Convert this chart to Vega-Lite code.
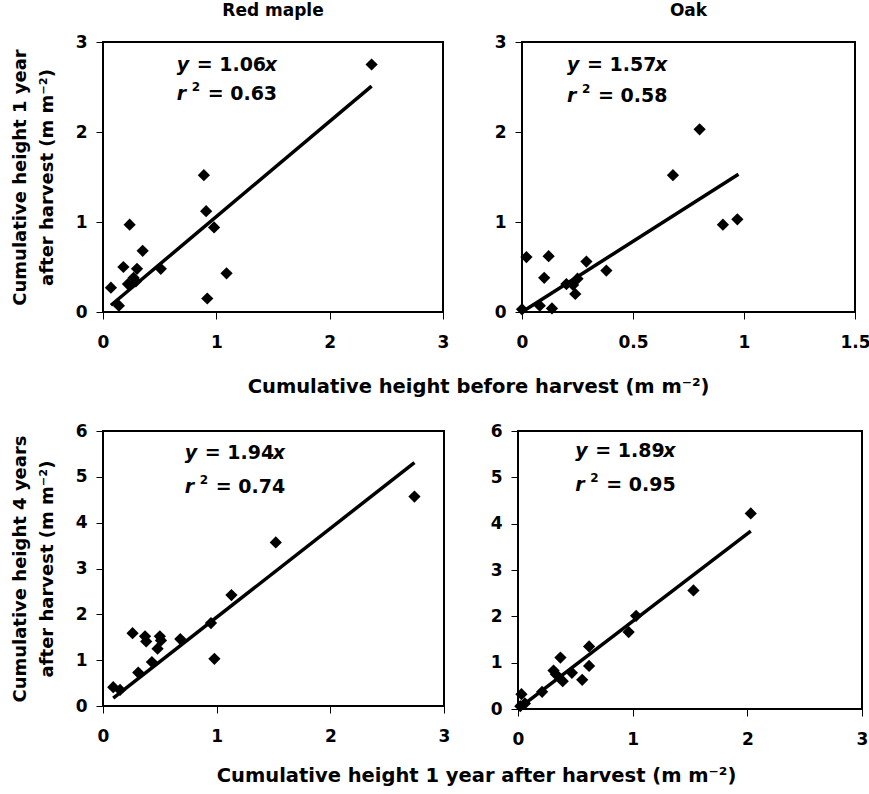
{
  "$schema": "https://vega.github.io/schema/vega-lite/v6.json",
  "background": "white",
  "padding": {"left": 10, "top": 1, "right": 0, "bottom": 3},
  "datasets": {
    "rm_top": [
      {"before": 2.37, "after1": 2.75}, {"before": 0.89, "after1": 1.52}, {"before": 0.91, "after1": 1.12},
      {"before": 0.98, "after1": 0.94}, {"before": 0.235, "after1": 0.97}, {"before": 0.35, "after1": 0.68},
      {"before": 0.18, "after1": 0.5}, {"before": 0.3, "after1": 0.48}, {"before": 0.51, "after1": 0.48},
      {"before": 1.09, "after1": 0.43}, {"before": 0.27, "after1": 0.38}, {"before": 0.22, "after1": 0.31},
      {"before": 0.29, "after1": 0.34}, {"before": 0.07, "after1": 0.27}, {"before": 0.14, "after1": 0.07},
      {"before": 0.92, "after1": 0.15}
    ],
    "oak_top": [
      {"before": 0.8, "after1": 2.03}, {"before": 0.68, "after1": 1.52}, {"before": 0.97, "after1": 1.03},
      {"before": 0.905, "after1": 0.97}, {"before": 0.02, "after1": 0.61}, {"before": 0.12, "after1": 0.62},
      {"before": 0.29, "after1": 0.56}, {"before": 0.38, "after1": 0.46}, {"before": 0.1, "after1": 0.38},
      {"before": 0.25, "after1": 0.37}, {"before": 0.2, "after1": 0.31}, {"before": 0.23, "after1": 0.3},
      {"before": 0.24, "after1": 0.2}, {"before": 0.0, "after1": 0.03}, {"before": 0.08, "after1": 0.07},
      {"before": 0.135, "after1": 0.04}
    ],
    "rm_bot": [
      {"after1": 2.74, "after4": 4.57}, {"after1": 1.52, "after4": 3.57}, {"after1": 1.13, "after4": 2.42},
      {"after1": 0.95, "after4": 1.81}, {"after1": 0.98, "after4": 1.03}, {"after1": 0.68, "after4": 1.46},
      {"after1": 0.26, "after4": 1.59}, {"after1": 0.37, "after4": 1.52}, {"after1": 0.38, "after4": 1.41},
      {"after1": 0.5, "after4": 1.52}, {"after1": 0.51, "after4": 1.43}, {"after1": 0.48, "after4": 1.25},
      {"after1": 0.43, "after4": 0.96}, {"after1": 0.31, "after4": 0.73}, {"after1": 0.09, "after4": 0.41},
      {"after1": 0.15, "after4": 0.35}
    ],
    "oak_bot": [
      {"after1": 2.03, "after4": 4.22}, {"after1": 1.53, "after4": 2.56}, {"after1": 1.03, "after4": 2.01},
      {"after1": 0.965, "after4": 1.66}, {"after1": 0.62, "after4": 1.35}, {"after1": 0.62, "after4": 0.93},
      {"after1": 0.37, "after4": 1.11}, {"after1": 0.31, "after4": 0.83}, {"after1": 0.33, "after4": 0.75},
      {"after1": 0.47, "after4": 0.78}, {"after1": 0.39, "after4": 0.6}, {"after1": 0.56, "after4": 0.63},
      {"after1": 0.21, "after4": 0.37}, {"after1": 0.03, "after4": 0.32}, {"after1": 0.06, "after4": 0.12},
      {"after1": 0.02, "after4": 0.06}
    ],
    "fit_rm_top": [{"before": 0.07, "after1": 0.075}, {"before": 2.37, "after1": 2.51}],
    "fit_oak_top": [{"before": 0.0, "after1": 0.0}, {"before": 0.975, "after1": 1.53}],
    "fit_rm_bot": [{"after1": 0.09, "after4": 0.17}, {"after1": 2.74, "after4": 5.31}],
    "fit_oak_bot": [{"after1": 0.02, "after4": 0.04}, {"after1": 2.03, "after4": 3.84}],
    "one": [{}]
  },
  "vconcat": [
    {
      "title": {"text": "Cumulative height before harvest (m m⁻²)", "orient": "bottom", "anchor": "middle", "offset": 27, "dx": 38, "fontSize": 19.5},
      "spacing": 43,
      "hconcat": [
        {
          "width": 340, "height": 270,
          "title": {"text": "Red maple"},
          "layer": [
            {"data": {"name": "fit_rm_top"}, "mark": {"type": "line", "color": "black", "strokeWidth": 3.5},
             "encoding": {"x": {"field": "before", "type": "quantitative"}, "y": {"field": "after1", "type": "quantitative"}}},
            {"data": {"name": "rm_top"}, "mark": {"type": "point", "shape": "diamond", "filled": true, "color": "black", "opacity": 1, "size": 150},
             "encoding": {
               "x": {"field": "before", "type": "quantitative", "scale": {"domain": [0, 3], "nice": false, "padding": 0}, "axis": {"values": [0, 1, 2, 3], "format": "~g", "title": null}},
               "y": {"field": "after1", "type": "quantitative", "scale": {"domain": [0, 3], "nice": false, "padding": 0}, "axis": {"values": [0, 1, 2, 3], "format": "~g", "title": ["Cumulative height 1 year", "after harvest (m m⁻²)"]}}
             }},
            {"data": {"name": "one"}, "mark": {"type": "text", "text": "y", "fontStyle": "italic", "align": "left", "baseline": "middle"},
             "encoding": {"x": {"datum": 0.65}, "y": {"datum": 2.74}}},
            {"data": {"name": "one"}, "mark": {"type": "text", "text": "= 1.06", "dx": 20, "align": "left", "baseline": "middle"},
             "encoding": {"x": {"datum": 0.65}, "y": {"datum": 2.74}}},
            {"data": {"name": "one"}, "mark": {"type": "text", "text": "x", "dx": 88, "fontStyle": "italic", "align": "left", "baseline": "middle"},
             "encoding": {"x": {"datum": 0.65}, "y": {"datum": 2.74}}},
            {"data": {"name": "one"}, "mark": {"type": "text", "text": "r", "fontStyle": "italic", "align": "left", "baseline": "middle"},
             "encoding": {"x": {"datum": 0.65}, "y": {"datum": 2.42}}},
            {"data": {"name": "one"}, "mark": {"type": "text", "text": "2", "dx": 15, "dy": -7, "fontSize": 12, "align": "left", "baseline": "middle"},
             "encoding": {"x": {"datum": 0.65}, "y": {"datum": 2.42}}},
            {"data": {"name": "one"}, "mark": {"type": "text", "text": "= 0.63", "dx": 31, "align": "left", "baseline": "middle"},
             "encoding": {"x": {"datum": 0.65}, "y": {"datum": 2.42}}}
          ]
        },
        {
          "width": 333, "height": 270,
          "title": {"text": "Oak"},
          "layer": [
            {"data": {"name": "fit_oak_top"}, "mark": {"type": "line", "color": "black", "strokeWidth": 3.5},
             "encoding": {"x": {"field": "before", "type": "quantitative"}, "y": {"field": "after1", "type": "quantitative"}}},
            {"data": {"name": "oak_top"}, "mark": {"type": "point", "shape": "diamond", "filled": true, "color": "black", "opacity": 1, "size": 150},
             "encoding": {
               "x": {"field": "before", "type": "quantitative", "scale": {"domain": [0, 1.5], "nice": false, "padding": 0}, "axis": {"values": [0, 0.5, 1, 1.5], "format": "~g", "title": null}},
               "y": {"field": "after1", "type": "quantitative", "scale": {"domain": [0, 3], "nice": false, "padding": 0}, "axis": {"values": [0, 1, 2, 3], "format": "~g", "title": null}}
             }},
            {"data": {"name": "one"}, "mark": {"type": "text", "text": "y", "fontStyle": "italic", "align": "left", "baseline": "middle"},
             "encoding": {"x": {"datum": 0.203}, "y": {"datum": 2.75}}},
            {"data": {"name": "one"}, "mark": {"type": "text", "text": "= 1.57", "dx": 20, "align": "left", "baseline": "middle"},
             "encoding": {"x": {"datum": 0.203}, "y": {"datum": 2.75}}},
            {"data": {"name": "one"}, "mark": {"type": "text", "text": "x", "dx": 88, "fontStyle": "italic", "align": "left", "baseline": "middle"},
             "encoding": {"x": {"datum": 0.203}, "y": {"datum": 2.75}}},
            {"data": {"name": "one"}, "mark": {"type": "text", "text": "r", "fontStyle": "italic", "align": "left", "baseline": "middle"},
             "encoding": {"x": {"datum": 0.203}, "y": {"datum": 2.4}}},
            {"data": {"name": "one"}, "mark": {"type": "text", "text": "2", "dx": 15, "dy": -7, "fontSize": 12, "align": "left", "baseline": "middle"},
             "encoding": {"x": {"datum": 0.203}, "y": {"datum": 2.4}}},
            {"data": {"name": "one"}, "mark": {"type": "text", "text": "= 0.58", "dx": 31, "align": "left", "baseline": "middle"},
             "encoding": {"x": {"datum": 0.203}, "y": {"datum": 2.4}}}
          ]
        }
      ]
    },
    {
      "title": {"text": "Cumulative height 1 year after harvest (m m⁻²)", "orient": "bottom", "anchor": "middle", "offset": 19, "dx": 37, "fontSize": 19.5},
      "spacing": 38,
      "hconcat": [
        {
          "width": 341, "height": 275,
          "layer": [
            {"data": {"name": "fit_rm_bot"}, "mark": {"type": "line", "color": "black", "strokeWidth": 3.5},
             "encoding": {"x": {"field": "after1", "type": "quantitative"}, "y": {"field": "after4", "type": "quantitative"}}},
            {"data": {"name": "rm_bot"}, "mark": {"type": "point", "shape": "diamond", "filled": true, "color": "black", "opacity": 1, "size": 150},
             "encoding": {
               "x": {"field": "after1", "type": "quantitative", "scale": {"domain": [0, 3], "nice": false, "padding": 0}, "axis": {"values": [0, 1, 2, 3], "format": "~g", "title": null}},
               "y": {"field": "after4", "type": "quantitative", "scale": {"domain": [0, 6], "nice": false, "padding": 0}, "axis": {"values": [0, 1, 2, 3, 4, 5, 6], "format": "~g", "title": ["Cumulative height 4 years", "after harvest (m m⁻²)"]}}
             }},
            {"data": {"name": "one"}, "mark": {"type": "text", "text": "y", "fontStyle": "italic", "align": "left", "baseline": "middle"},
             "encoding": {"x": {"datum": 0.72}, "y": {"datum": 5.52}}},
            {"data": {"name": "one"}, "mark": {"type": "text", "text": "= 1.94", "dx": 20, "align": "left", "baseline": "middle"},
             "encoding": {"x": {"datum": 0.72}, "y": {"datum": 5.52}}},
            {"data": {"name": "one"}, "mark": {"type": "text", "text": "x", "dx": 88, "fontStyle": "italic", "align": "left", "baseline": "middle"},
             "encoding": {"x": {"datum": 0.72}, "y": {"datum": 5.52}}},
            {"data": {"name": "one"}, "mark": {"type": "text", "text": "r", "fontStyle": "italic", "align": "left", "baseline": "middle"},
             "encoding": {"x": {"datum": 0.72}, "y": {"datum": 4.78}}},
            {"data": {"name": "one"}, "mark": {"type": "text", "text": "2", "dx": 15, "dy": -7, "fontSize": 12, "align": "left", "baseline": "middle"},
             "encoding": {"x": {"datum": 0.72}, "y": {"datum": 4.78}}},
            {"data": {"name": "one"}, "mark": {"type": "text", "text": "= 0.74", "dx": 31, "align": "left", "baseline": "middle"},
             "encoding": {"x": {"datum": 0.72}, "y": {"datum": 4.78}}}
          ]
        },
        {
          "width": 344, "height": 278,
          "layer": [
            {"data": {"name": "fit_oak_bot"}, "mark": {"type": "line", "color": "black", "strokeWidth": 3.5},
             "encoding": {"x": {"field": "after1", "type": "quantitative"}, "y": {"field": "after4", "type": "quantitative"}}},
            {"data": {"name": "oak_bot"}, "mark": {"type": "point", "shape": "diamond", "filled": true, "color": "black", "opacity": 1, "size": 150},
             "encoding": {
               "x": {"field": "after1", "type": "quantitative", "scale": {"domain": [0, 3], "nice": false, "padding": 0}, "axis": {"values": [0, 1, 2, 3], "format": "~g", "title": null}},
               "y": {"field": "after4", "type": "quantitative", "scale": {"domain": [0, 6], "nice": false, "padding": 0}, "axis": {"values": [0, 1, 2, 3, 4, 5, 6], "format": "~g", "title": null}}
             }},
            {"data": {"name": "one"}, "mark": {"type": "text", "text": "y", "fontStyle": "italic", "align": "left", "baseline": "middle"},
             "encoding": {"x": {"datum": 0.5}, "y": {"datum": 5.57}}},
            {"data": {"name": "one"}, "mark": {"type": "text", "text": "= 1.89", "dx": 20, "align": "left", "baseline": "middle"},
             "encoding": {"x": {"datum": 0.5}, "y": {"datum": 5.57}}},
            {"data": {"name": "one"}, "mark": {"type": "text", "text": "x", "dx": 88, "fontStyle": "italic", "align": "left", "baseline": "middle"},
             "encoding": {"x": {"datum": 0.5}, "y": {"datum": 5.57}}},
            {"data": {"name": "one"}, "mark": {"type": "text", "text": "r", "fontStyle": "italic", "align": "left", "baseline": "middle"},
             "encoding": {"x": {"datum": 0.5}, "y": {"datum": 4.84}}},
            {"data": {"name": "one"}, "mark": {"type": "text", "text": "2", "dx": 15, "dy": -7, "fontSize": 12, "align": "left", "baseline": "middle"},
             "encoding": {"x": {"datum": 0.5}, "y": {"datum": 4.84}}},
            {"data": {"name": "one"}, "mark": {"type": "text", "text": "= 0.95", "dx": 31, "align": "left", "baseline": "middle"},
             "encoding": {"x": {"datum": 0.5}, "y": {"datum": 4.84}}}
          ]
        }
      ]
    }
  ],
  "spacing": 24,
  "config": {
    "font": "DejaVu Sans",
    "view": {"stroke": "black", "strokeWidth": 2},
    "text": {"font": "DejaVu Sans", "fontWeight": "bold", "fontSize": 19, "color": "black"},
    "axis": {
      "domain": false, "grid": false, "ticks": true, "tickColor": "black", "tickSize": 7, "tickWidth": 1, "labelFlush": false,
      "labelFont": "DejaVu Sans", "labelFontWeight": "bold", "labelFontSize": 17, "labelColor": "black",
      "titleFont": "DejaVu Sans", "titleFontWeight": "bold", "titleFontSize": 18, "titleColor": "black", "titlePadding": 19, "titleLineHeight": 27
    },
    "axisX": {"labelPadding": 15},
    "axisY": {"labelPadding": 9},
    "title": {"font": "DejaVu Sans", "fontWeight": "bold", "fontSize": 17, "color": "black", "offset": 13}
  }
}
